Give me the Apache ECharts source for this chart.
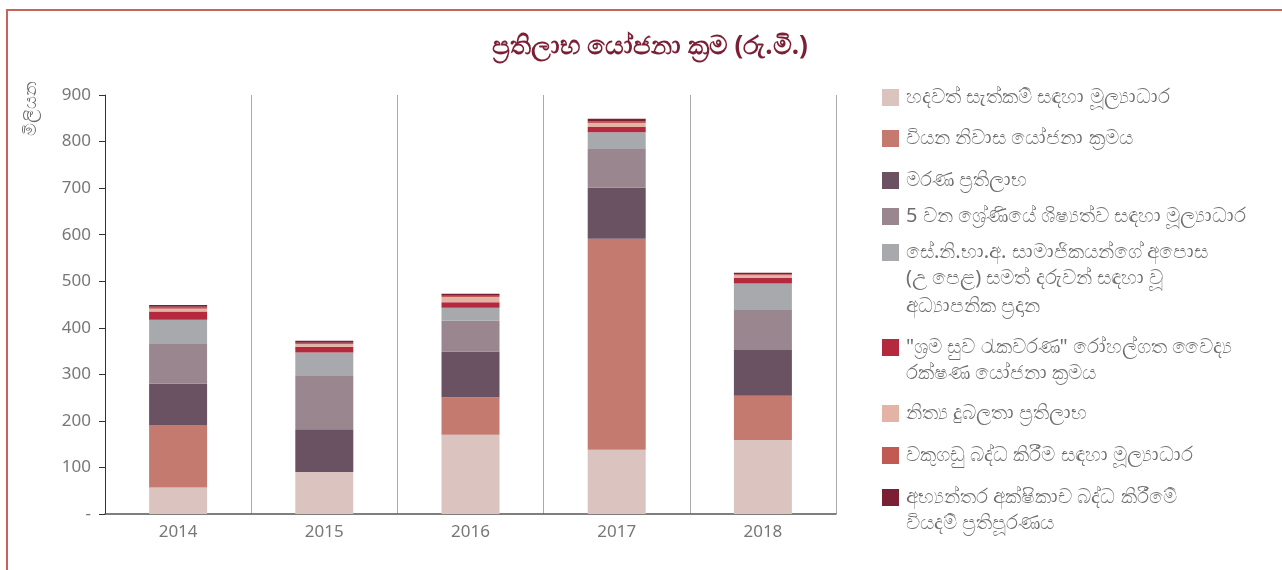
<!DOCTYPE html>
<html>
<head>
<meta charset="utf-8">
<script src="https://cdn.jsdelivr.net/npm/echarts@6/dist/echarts.min.js"></script>
<style>
html,body{margin:0;padding:0;background:#fff;}
#frame{position:absolute;left:6px;top:9px;width:1290px;height:600px;border-top:2px solid #c9625c;border-left:2px solid #c9625c;}
#main{position:absolute;left:0;top:0;width:1282px;height:570px;}
</style>
</head>
<body>
<div id="frame"></div>
<div id="main"></div>
<script>
const categories = ['2014', '2015', '2016', '2017', '2018'];
const yTicks = [0, 100, 200, 300, 400, 500, 600, 700, 800, 900];

const seriesNames = [
  ['හදවත් සැත්කම් සඳහා මූල්‍යාධාර'],
  ['වියන නිවාස යෝජනා ක්‍රමය'],
  ['මරණ ප්‍රතිලාභ'],
  ['5 වන ශ්‍රේණියේ ශිෂ්‍යත්ව සඳහා මූල්‍යාධාර'],
  ['සේ.නි.භා.අ. සාමාජිකයන්ගේ අපොස', '(උ පෙළ) සමත් දරුවන් සඳහා වූ', 'අධ්‍යාපනික ප්‍රදාන'],
  ['"ශ්‍රම සුව රැකවරණ" රෝහල්ගත වෛද්‍ය', 'රක්ෂණ යෝජනා ක්‍රමය'],
  ['නිත්‍ය දුබලතා ප්‍රතිලාභ'],
  ['වකුගඩු බද්ධ කිරීම සඳහා මූල්‍යාධාර'],
  ['අභ්‍යන්තර අක්ෂිකාච බද්ධ කිරීමේ', 'වියදම් ප්‍රතිපූරණය']
];

const heartSurgery   = [57, 90, 170, 138, 159];
const housing        = [134, 0, 81, 453, 95];
const death          = [89, 92, 98, 110, 98];
const scholarship    = [85, 116, 66, 83, 86];
const alGrants       = [52, 49, 28, 36, 57];
const medicalIns     = [18, 12, 12, 11, 12];
const disability     = [6, 6, 11, 9, 6];
const kidney         = [4, 3, 3, 4, 2];
const lens           = [4, 4, 4, 5, 3];

const seriesData = [heartSurgery, housing, death, scholarship, alGrants, medicalIns, disability, kidney, lens];
const colors = ['#dbc4c0', '#c47a6f', '#6b5263', '#9a868e', '#a8a9ad', '#b5293f', '#e3b3a6', '#c05a52', '#7b1f35'];
const legendCenters = [96, 137, 179, 215, 251, 346, 412, 454, 496];

const FONT = "'Noto Sans', 'DejaVu Sans', sans-serif";
const LINE_H = 27.5;
const LEG_FONT = 20;

const series = seriesData.map((d, i) => ({
  name: seriesNames[i][0],
  type: 'bar',
  stack: 'total',
  barWidth: 58,
  data: d,
  itemStyle: { color: colors[i] }
}));

const legends = seriesNames.map((n, i) => ({
  data: [n[0]],
  left: 877,
  top: legendCenters[i] - 13.5,
  itemWidth: 17,
  itemHeight: 17,
  itemGap: 0,
  icon: 'rect',
  selectedMode: false,
  textStyle: { fontSize: LEG_FONT, color: '#6e6e6e', fontFamily: FONT, padding: [0, 0, 0, 2] }
}));

const graphics = [];
seriesNames.forEach((n, i) => {
  n.slice(1).forEach((line, j) => {
    graphics.push({
      type: 'text',
      x: 906,
      y: legendCenters[i] + LINE_H * (j + 1),
      style: { text: line, fontSize: LEG_FONT, fill: '#6e6e6e', fontFamily: FONT, textAlign: 'left', textVerticalAlign: 'middle' }
    });
  });
});
graphics.push({
  type: 'text',
  x: 22, y: 136,
  rotation: Math.PI / 2,
  style: { text: 'මිලියන', fontSize: 18, fill: '#6e6e6e', fontFamily: FONT, textAlign: 'left', textVerticalAlign: 'top' }
});

const chart = echarts.init(document.getElementById('main'));
chart.setOption({
  animation: false,
  title: {
    text: 'ප්‍රතිලාභ යෝජනා ක්‍රම (රු.මි.)',
    left: 645,
    textAlign: 'center',
    top: 29,
    textStyle: { fontSize: 26, fontWeight: 'bold', color: '#7b1f35', fontFamily: FONT }
  },
  legend: legends,
  graphic: graphics,
  grid: { left: 105, right: 446, top: 95, bottom: 56, containLabel: false },
  xAxis: {
    type: 'category',
    data: categories,
    axisLine: { lineStyle: { color: '#555', width: 1.5 } },
    axisTick: { show: false },
    axisLabel: { fontSize: 17, color: '#777', margin: 10, fontFamily: FONT },
    splitLine: { show: true, lineStyle: { color: '#aaa', width: 1 } }
  },
  yAxis: {
    type: 'value',
    min: yTicks[0],
    max: yTicks[yTicks.length - 1],
    interval: 100,
    axisLine: { show: true, lineStyle: { color: '#333', width: 1 } },
    axisTick: { show: true, inside: false, length: 6, lineStyle: { color: '#333' } },
    axisLabel: {
      fontSize: 17, color: '#777', margin: 14, fontFamily: FONT,
      formatter: v => (v === 0 ? '-' : String(v))
    },
    splitLine: { show: false }
  },
  series: series
});
</script>
</body>
</html>
